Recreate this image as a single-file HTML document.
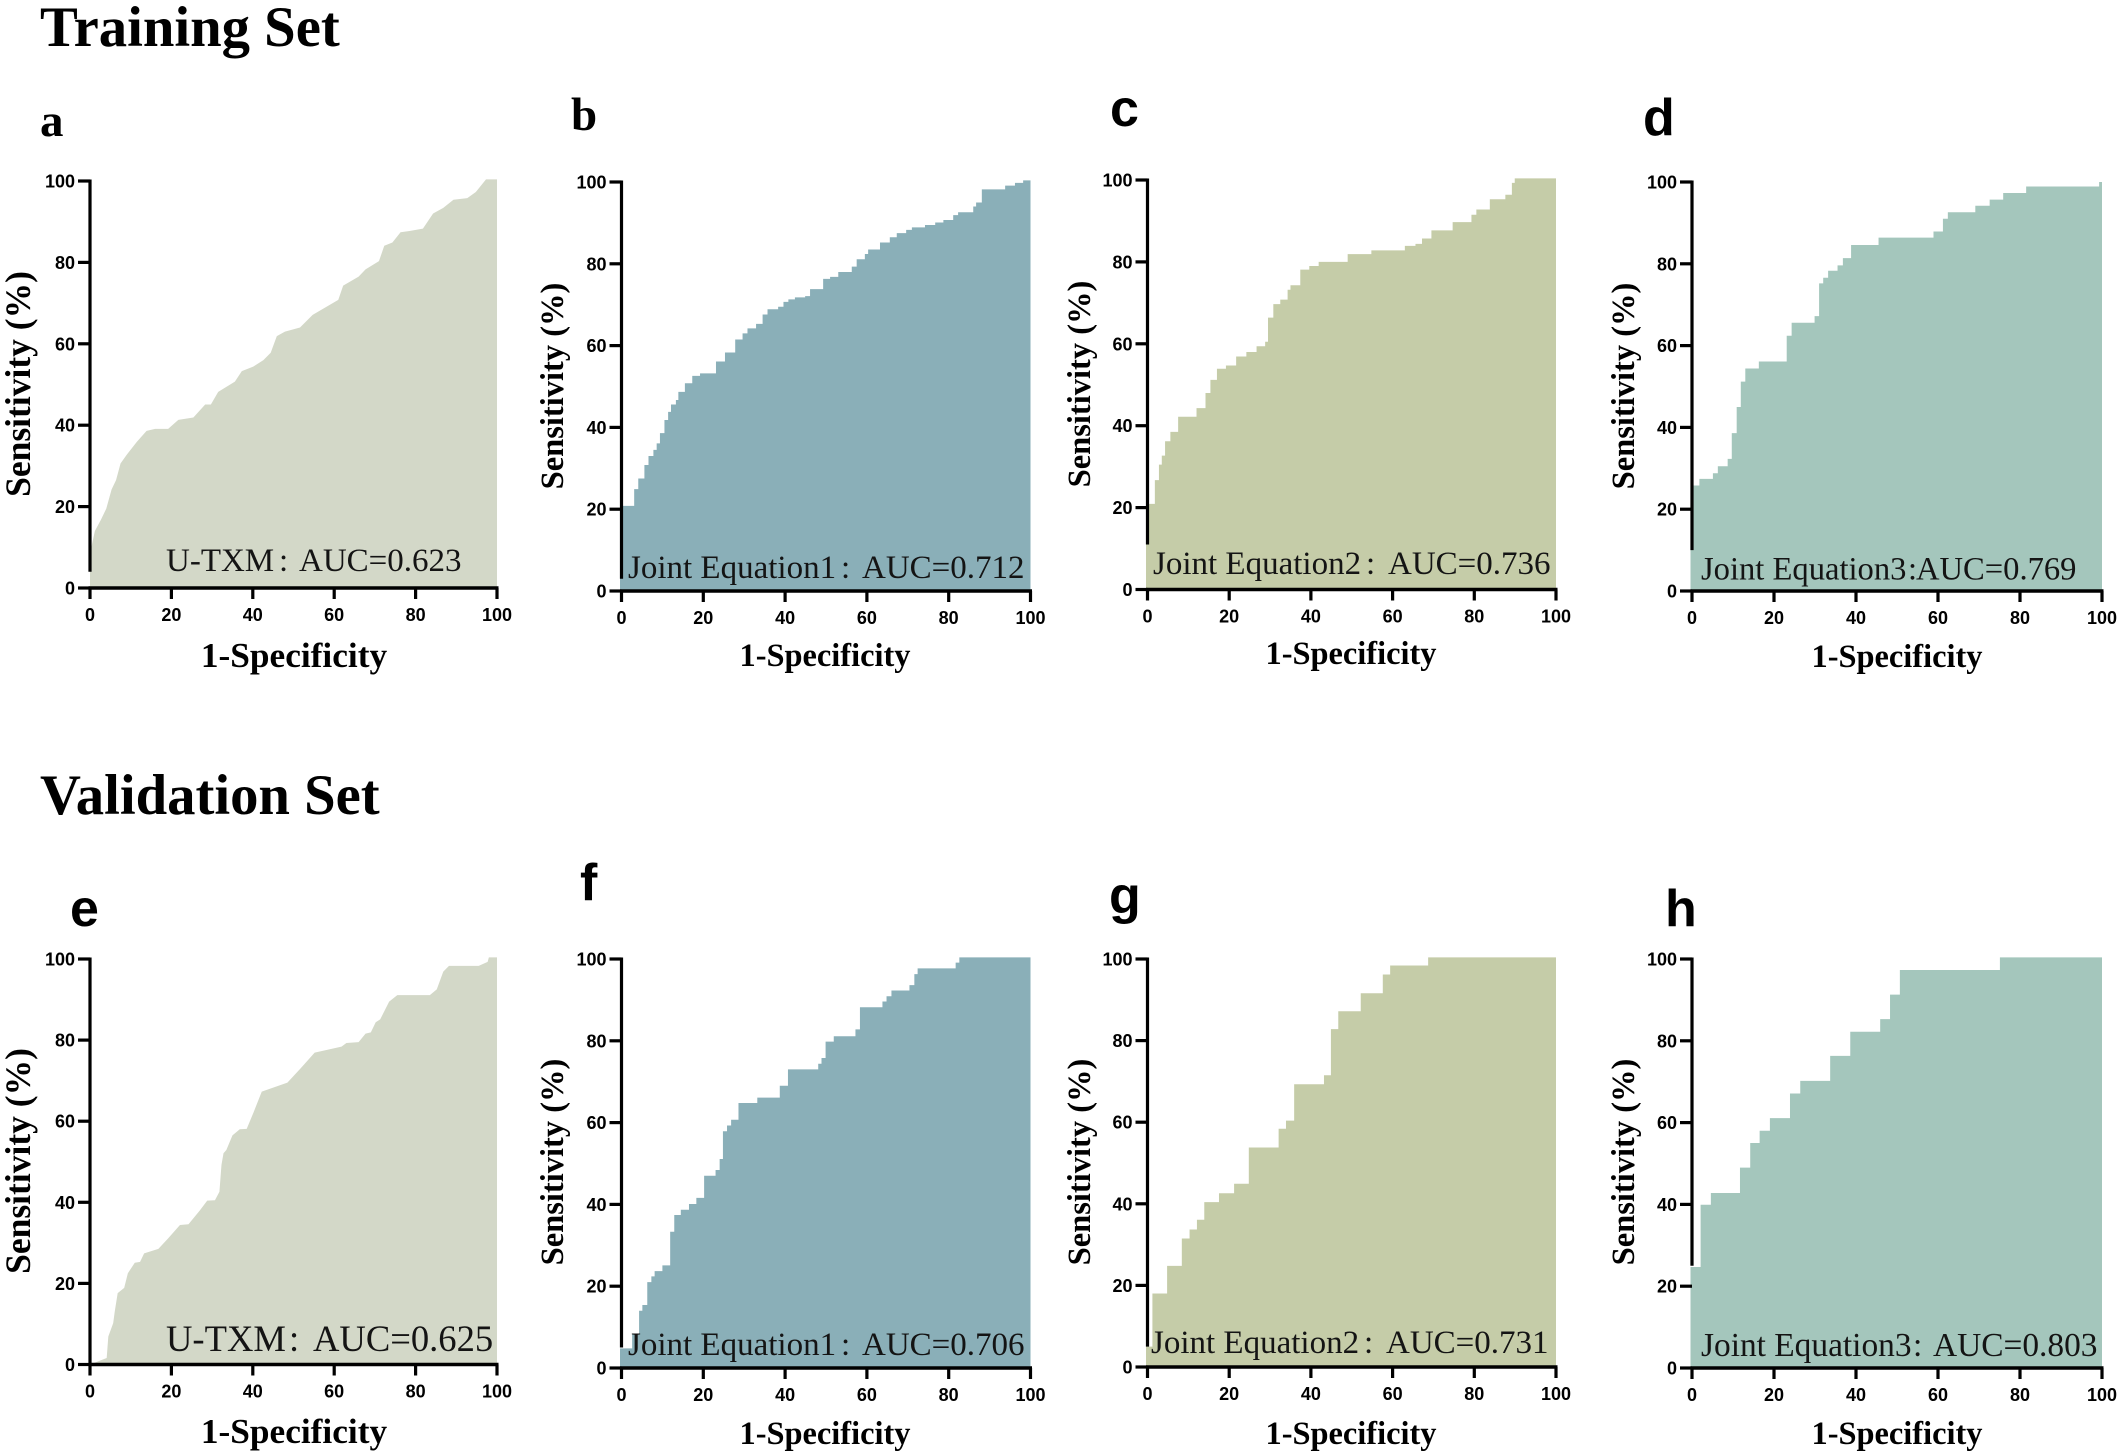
<!DOCTYPE html>
<html lang="en">
<head>
<meta charset="utf-8">
<title>ROC curves for training and validation sets</title>
<style>
html,body{margin:0;padding:0;background:#fff;}
svg{display:block;}
.heading{font-family:"Liberation Serif",serif;font-weight:bold;font-size:56.7px;fill:#000;}
.serif-letter{font-family:"Liberation Serif",serif;font-weight:bold;font-size:47px;fill:#000;}
.sans-letter{font-family:"Liberation Sans",sans-serif;font-weight:bold;font-size:52px;fill:#000;}
.tick-label{font-family:"Liberation Sans",sans-serif;font-weight:bold;font-size:18px;fill:#000;}
.axis-title{font-family:"Liberation Serif",serif;font-weight:bold;fill:#000;}
.auc-label{font-family:"Liberation Serif",serif;fill:#141414;}
</style>
</head>
<body>
<svg id="figure" xmlns="http://www.w3.org/2000/svg" width="2121" height="1455" viewBox="0 0 2121 1455">
  <rect x="0" y="0" width="2121" height="1455" fill="#ffffff"/>
  <text class="heading" x="40" y="46">Training Set</text>
  <text class="heading" x="40" y="814">Validation Set</text>
  <text class="serif-letter" x="40" y="136">a</text>
  <text class="serif-letter" x="571" y="130">b</text>
  <text class="sans-letter" x="1110" y="126">c</text>
  <text class="sans-letter" x="1643" y="135">d</text>
  <text class="sans-letter" x="70" y="926">e</text>
  <text class="sans-letter" x="580" y="900">f</text>
  <text class="sans-letter" x="1109" y="913">g</text>
  <text class="sans-letter" x="1665" y="926">h</text>
</svg>
<script>
// Shared axis tick values
const tickValues = [0, 20, 40, 60, 80, 100];

// Panel a: U-TXM, training set
const fprA = [0, 0, 1.2, 2.7, 4, 5.3, 6.4, 7.5, 9, 11.5, 13.9, 16, 19.2, 21.7, 25.4, 28.3, 29.7, 31.5, 35.6, 37.3, 40.1, 42.6, 44.4, 45.9, 47.9, 51.6, 54.7, 61, 62.2, 66, 67.7, 71, 72.3, 74.3, 76.3, 78.5, 81.8, 84.3, 86.8, 89.3, 92.7, 94.8, 97.3, 100];
const tprA = [0, 8.5, 14, 16.8, 19.5, 24.2, 26.5, 30.6, 32.7, 35.9, 38.6, 39.1, 39.1, 41.3, 41.9, 45.1, 45.1, 48.2, 50.7, 53.3, 54.4, 56, 57.8, 61.9, 63, 64, 67.1, 70.8, 74.3, 76.5, 78.3, 80.3, 84.1, 84.9, 87.4, 87.7, 88.3, 92, 93.4, 95.4, 95.8, 97.3, 100.4, 100.4];

// Panel b: Joint Equation1, training set
const fprB = [0, 3.1, 4.1, 5.6, 6.6, 7.8, 8.6, 9.4, 10.5, 11.4, 12.1, 13.3, 13.9, 15.5, 17.3, 19.2, 23.1, 25.3, 27.8, 29.6, 30.8, 32.9, 34.5, 35.7, 38.3, 39.6, 40.8, 42.4, 44.9, 46.1, 49.3, 51, 53, 56.3, 57.5, 59.5, 60.3, 63.2, 65.6, 67.3, 69.6, 71, 74.2, 76.7, 78.7, 81.1, 82.3, 86, 86.7, 88.1, 93.8, 96.2, 98.2];
const tprB = [20.8, 24.9, 27.5, 30.8, 33, 34.5, 36.1, 38.6, 41.8, 43.8, 45.6, 46.7, 48.7, 50.8, 52.6, 53.2, 56.1, 58.3, 61.5, 63, 64.2, 65.3, 67.6, 68.9, 69.5, 70.7, 71.3, 71.8, 72.1, 73.8, 76.3, 76.8, 78, 79.3, 81.1, 82.4, 83.5, 85.2, 86.5, 87.5, 88.3, 88.9, 89.5, 90.1, 90.7, 91.9, 92.6, 94, 95, 98.2, 99.1, 99.8, 100.4];

// Panel c: Joint Equation2, training set
const fprC = [0, 1.8, 2.8, 3.5, 4.3, 5.6, 7.5, 12, 14.2, 15.4, 17, 19.2, 21.7, 24.2, 26.7, 28.8, 29.5, 30.8, 32.5, 34.3, 35, 37.4, 39.6, 41.9, 49, 54.8, 63, 65.6, 67.2, 69.5, 74.7, 79.3, 80.5, 83.8, 87.6, 89.2, 89.9];
const tprC = [20.9, 26.7, 30.5, 32.7, 36.2, 38.5, 42.2, 44.3, 48, 51.2, 53.9, 54.7, 56.9, 58, 59.4, 60.5, 66.4, 69.7, 70.8, 73.2, 74.3, 78.1, 79, 80, 81.9, 82.8, 83.9, 84.4, 85.7, 87.7, 89.7, 91.5, 92.8, 95.3, 96.4, 99.3, 100.4];

// Panel d: Joint Equation3, training set
const fprD = [0, 1.8, 5.1, 6.3, 8.7, 9.7, 10.9, 11.9, 13, 16.3, 23.1, 24.3, 29.9, 31, 32, 33.2, 35.5, 36.8, 38.8, 45.5, 58.9, 61.2, 62.4, 69.1, 72.6, 75.9, 81.5, 99.3];
const tprD = [25.8, 27.4, 28.8, 30.5, 32.3, 38.6, 45, 51.2, 54.4, 56.1, 62.4, 65.6, 67.2, 75.2, 76.6, 78.3, 79.6, 81.4, 84.6, 86.4, 87.9, 91, 92.6, 94.2, 95.7, 97.3, 98.9, 100];

// Panel e: U-TXM, validation set
const fprE = [0, 4.1, 4.5, 5.7, 6.1, 6.8, 8.4, 9.3, 11, 12.3, 13.3, 16.8, 19.2, 22.1, 24.2, 27, 28.8, 30.7, 31.8, 32.3, 32.8, 33.5, 35, 36.8, 38.5, 40.2, 42.2, 48.5, 51.8, 55.2, 61.8, 63, 66, 67.7, 69, 70.2, 71.3, 73.5, 75.5, 83.5, 85.2, 86.8, 88.2, 95.5, 97.7, 98, 100];
const tprE = [0, 1.6, 6.9, 10.2, 13.2, 17.6, 18.9, 22.5, 25.1, 25.3, 27.4, 28.5, 31.1, 34.4, 34.6, 38, 40.4, 40.5, 42.6, 49.2, 52.1, 52.9, 56.5, 58, 58.1, 62.2, 67.3, 69.5, 73.1, 76.9, 78.4, 79.3, 79.5, 81.6, 81.9, 84.4, 85.1, 89.5, 91.1, 91.1, 92.5, 96.9, 98.3, 98.3, 99.3, 100.4, 100.4];

// Panel f: Joint Equation1, validation set
const fprF = [0, 2.6, 4.3, 5.1, 6.3, 7.3, 8.1, 10, 11.9, 12.9, 14.5, 16.5, 18.3, 20.2, 23, 24, 24.8, 25.8, 26.8, 28.6, 33.2, 38.7, 40.7, 48.1, 48.9, 49.9, 51.9, 57.2, 58.3, 63.8, 64.8, 66, 70.4, 71.6, 72.4, 81.7, 82.6];
const tprF = [4.8, 8.3, 14, 15.4, 21, 22.4, 23.7, 25.1, 33.3, 37.4, 38.7, 40.1, 41.6, 47, 48.4, 51.1, 57.9, 59.3, 60.7, 64.8, 66.1, 69, 73, 74.4, 75.8, 79.8, 81.1, 82.8, 88.2, 89.6, 90.9, 92.3, 93.6, 96.3, 97.7, 99.1, 100.4];

// Panel g: Joint Equation2, validation set
const fprG = [0, 1.2, 4.8, 8.4, 10.3, 12.1, 13.9, 17.5, 21.2, 24.8, 32.1, 33.9, 35.9, 43.2, 44.9, 46.7, 52.2, 57.6, 59.4, 68.7];
const tprG = [5, 18, 24.8, 31.5, 33.7, 36.1, 40.4, 42.6, 44.9, 53.8, 58.4, 60.4, 69.3, 71.5, 82.8, 87.2, 91.6, 96.2, 98.4, 100.4];

// Panel h: Joint Equation3, validation set
const fprH = [0, 2.1, 4.6, 11.7, 14.2, 16.5, 19, 23.9, 26.4, 33.7, 38.6, 45.9, 48.3, 50.7, 75.1];
const tprH = [24.7, 39.9, 42.8, 49, 55, 58, 61.1, 67.1, 70.2, 76.3, 82.2, 85.3, 91.3, 97.3, 100.4];

// Panel layout: axis geometry and text placement only; values come from the arrays above
const panels = [
  {id:'a', fpr:fprA, tpr:tprA, mode:'line', color:'#d3d8c8', x0:90, x100:497, y0:588, y100:181, axisFrom:4, xTitleX:294, xTitleY:667, xTitleSize:35.3, yTitleX:30, yTitleY:384, yTitleSize:35.5,
   labelSize:33, labelY:571, name:'U-TXM', nameX:166, colon:':', colonX:279, auc:'AUC=0.623', aucX:299},
  {id:'b', fpr:fprB, tpr:tprB, mode:'step', color:'#8aafb8', x0:621.5, x100:1030.5, y0:591, y100:182, axisFrom:3, xTitleX:825, xTitleY:666, xTitleSize:32.4, yTitleX:563, yTitleY:386, yTitleSize:32.5,
   labelSize:33, labelY:578, name:'Joint Equation1', nameX:628, colon:':', colonX:841, auc:'AUC=0.712', aucX:862},
  {id:'c', fpr:fprC, tpr:tprC, mode:'step', color:'#c5cca8', x0:1147.5, x100:1556, y0:589.5, y100:180, axisFrom:11, xTitleX:1351, xTitleY:664, xTitleSize:32.4, yTitleX:1090, yTitleY:384, yTitleSize:32.5,
   labelSize:33, labelY:574, name:'Joint Equation2', nameX:1153, colon:':', colonX:1366, auc:'AUC=0.736', aucX:1388},
  {id:'d', fpr:fprD, tpr:tprD, mode:'step', color:'#a4c6bc', x0:1692, x100:2102, y0:591, y100:182, axisFrom:10, xTitleX:1897, xTitleY:667, xTitleSize:32.4, yTitleX:1634, yTitleY:386, yTitleSize:32.5,
   labelSize:32.6, labelY:579.5, name:'Joint Equation3', nameX:1701, colon:':', colonX:1908, auc:'AUC=0.769', aucX:1916},
  {id:'e', fpr:fprE, tpr:tprE, mode:'line', color:'#d3d8c8', x0:90, x100:497, y0:1364.5, y100:959, axisFrom:0, xTitleX:294, xTitleY:1443, xTitleSize:35.3, yTitleX:30, yTitleY:1161, yTitleSize:35.5,
   labelSize:36.6, labelY:1351, name:'U-TXM', nameX:166, colon:':', colonX:289, auc:'AUC=0.625', aucX:313},
  {id:'f', fpr:fprF, tpr:tprF, mode:'step', color:'#8aafb8', x0:621.5, x100:1030.5, y0:1368, y100:959, axisFrom:5, xTitleX:825, xTitleY:1444, xTitleSize:32.4, yTitleX:563, yTitleY:1162, yTitleSize:32.5,
   labelSize:33, labelY:1355, name:'Joint Equation1', nameX:628, colon:':', colonX:841, auc:'AUC=0.706', aucX:862},
  {id:'g', fpr:fprG, tpr:tprG, mode:'step', color:'#c5cca8', x0:1147.5, x100:1556, y0:1367, y100:959, axisFrom:5, xTitleX:1351, xTitleY:1444, xTitleSize:32.4, yTitleX:1090, yTitleY:1162, yTitleSize:32.5,
   labelSize:33, labelY:1353, name:'Joint Equation2', nameX:1151, colon:':', colonX:1364, auc:'AUC=0.731', aucX:1386},
  {id:'h', fpr:fprH, tpr:tprH, mode:'step', color:'#a4c6bc', x0:1692, x100:2102, y0:1368, y100:959, axisFrom:25, xTitleX:1897, xTitleY:1444, xTitleSize:32.4, yTitleX:1634, yTitleY:1162, yTitleSize:32.5,
   labelSize:33.4, labelY:1356, name:'Joint Equation3', nameX:1701, colon:':', colonX:1913, auc:'AUC=0.803', aucX:1933}
];

const svgNS = 'http://www.w3.org/2000/svg';
const figure = document.getElementById('figure');

function make(tag, attrs, parent, text) {
  const node = document.createElementNS(svgNS, tag);
  for (const key in attrs) node.setAttribute(key, attrs[key]);
  if (text !== undefined) node.textContent = text;
  parent.appendChild(node);
  return node;
}

function xScale(p, v) { return p.x0 + (v / 100) * (p.x100 - p.x0); }
function yScale(p, v) { return p.y0 + (v / 100) * (p.y100 - p.y0); }

function areaPath(p) {
  let d = 'M' + (p.x0 - 1.5) + ' ' + p.y0 + ' L' + (p.x0 - 1.5) + ' ' + yScale(p, p.tpr[0]);
  for (let i = 0; i < p.fpr.length; i++) {
    const x = xScale(p, p.fpr[i]);
    if (p.mode === 'step' && i > 0) d += ' L' + x + ' ' + yScale(p, p.tpr[i - 1]);
    d += ' L' + x + ' ' + yScale(p, p.tpr[i]);
  }
  d += ' L' + p.x100 + ' ' + yScale(p, p.tpr[p.tpr.length - 1]);
  d += ' L' + p.x100 + ' ' + p.y0 + ' Z';
  return d;
}

panels.forEach(function (p) {
  const group = make('g', {}, figure);
  
  

  const area = make('path', {d: areaPath(p), fill: p.color}, group);
  
  

  const yAxis = make('line', {x1: p.x0, x2: p.x0, y1: yScale(p, p.axisFrom), y2: p.y100 - 1.5, stroke: '#000', 'stroke-width': 3.2}, group);
  
  

  const xAxis = make('line', {x1: p.x0 - 1.5, x2: p.x100 + 1.5, y1: p.y0, y2: p.y0, stroke: '#000', 'stroke-width': 3.6}, group);
  
  

  tickValues.forEach(function (t) {
    const xPos = xScale(p, t);
    const yPos = yScale(p, t);

    const xTick = make('line', {x1: xPos, x2: xPos, y1: p.y0, y2: p.y0 + 11, stroke: '#000', 'stroke-width': 3.2}, group);
    
    

    const xLabel = make('text', {x: xPos, y: p.y0 + 33, 'text-anchor': 'middle', 'class': 'tick-label'}, group, String(t));
    
    

    const yTick = make('line', {x1: p.x0 - 12, x2: p.x0, y1: yPos, y2: yPos, stroke: '#000', 'stroke-width': 3.2}, group);
    
    

    const yLabel = make('text', {x: p.x0 - 15, y: yPos + 6.5, 'text-anchor': 'end', 'class': 'tick-label'}, group, String(t));
    
    
  });

  const xTitle = make('text', {x: p.xTitleX, y: p.xTitleY, 'text-anchor': 'middle', 'class': 'axis-title', 'font-size': p.xTitleSize}, group, '1-Specificity');
  
  

  const yTitle = make('text', {x: 0, y: 0, 'text-anchor': 'middle', 'class': 'axis-title', 'font-size': p.yTitleSize, transform: 'translate(' + p.yTitleX + ' ' + p.yTitleY + ') rotate(-90)'}, group, 'Sensitivity (%)');
  
  

  const label = make('text', {y: p.labelY, 'class': 'auc-label', 'font-size': p.labelSize}, group);
  
  
  make('tspan', {x: p.nameX}, label, p.name);
  make('tspan', {x: p.colonX}, label, p.colon);
  make('tspan', {x: p.aucX}, label, p.auc);
});
</script>
</body>
</html>
